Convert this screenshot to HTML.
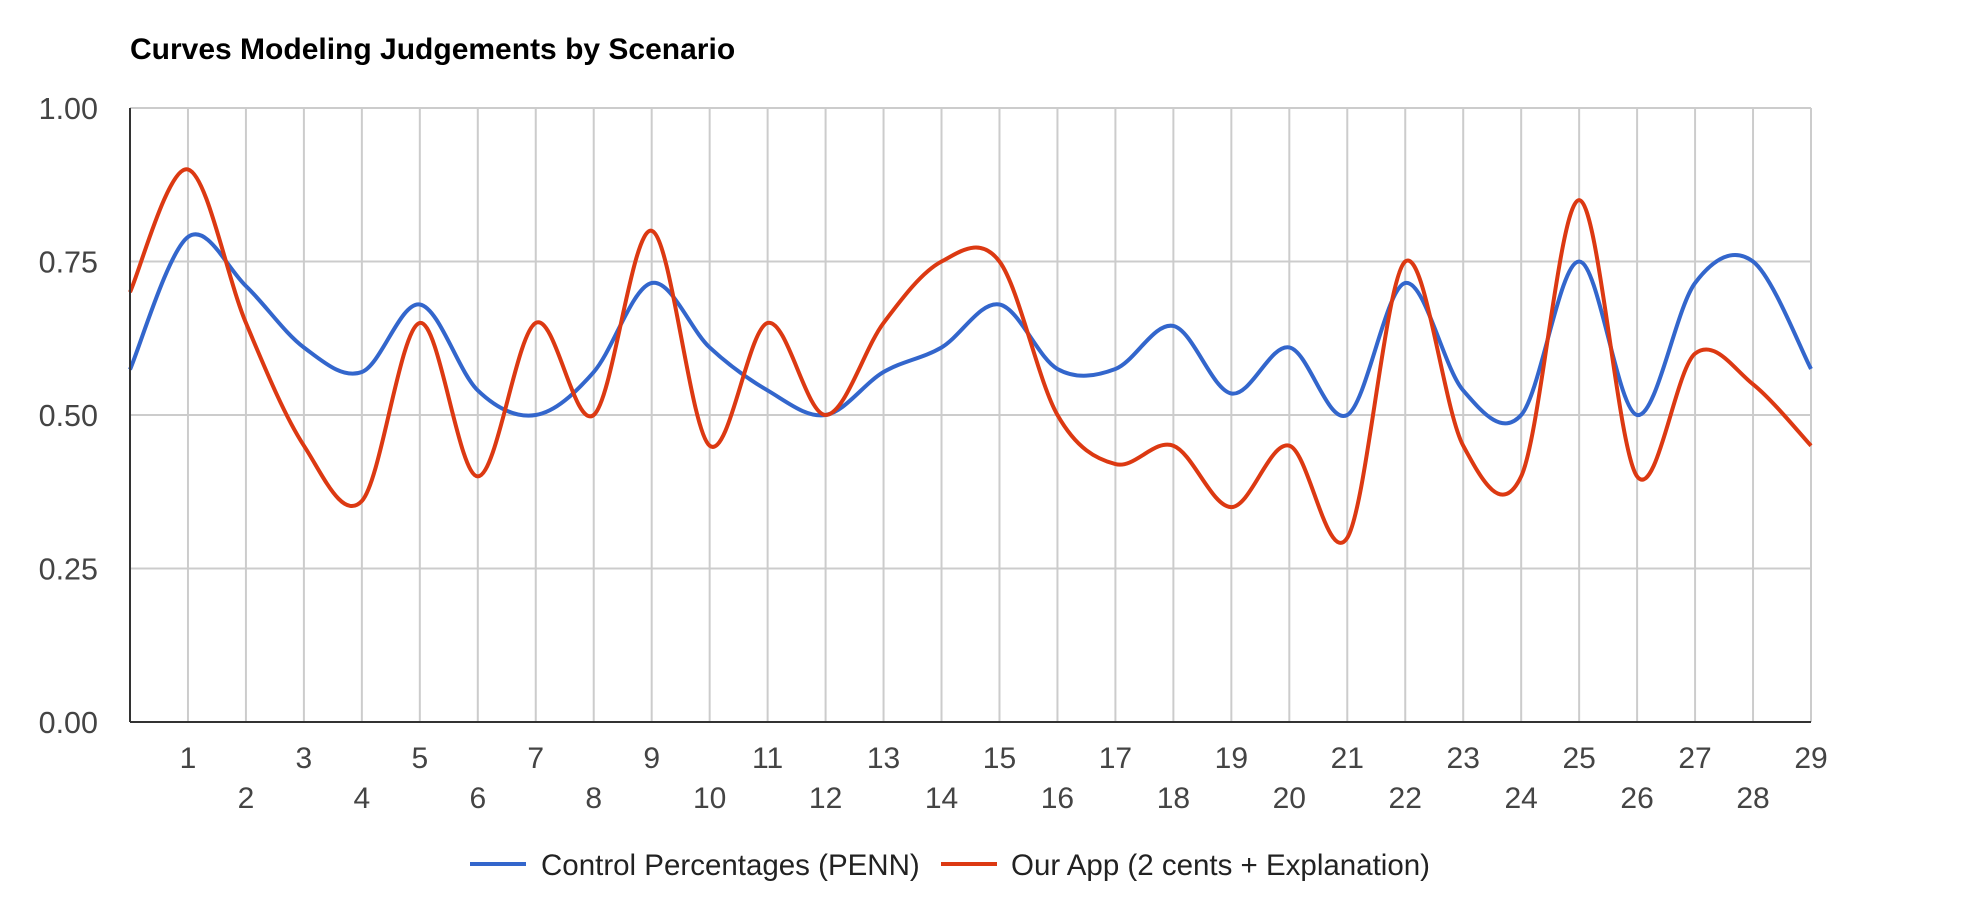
<!DOCTYPE html>
<html><head><meta charset="utf-8"><style>
html,body{margin:0;padding:0;background:#fff;}
svg{display:block;font-family:"Liberation Sans",Arial,sans-serif;}
</style></head><body>
<svg id="chart" width="1962" height="910" viewBox="0 0 1962 910" xmlns="http://www.w3.org/2000/svg">
<text x="130" y="59" font-size="30" font-weight="bold" fill="#000">Curves Modeling Judgements by Scenario</text>
<g id="grid"></g>
<g id="series"></g>
<g id="axes"></g>
<g>
 <g>
  <line x1="470" y1="864" x2="526" y2="864" stroke="#3366cc" stroke-width="4"/>
  <text x="541" y="875" font-size="29.5" fill="#222">Control Percentages (PENN)</text>
 </g>
 <g>
  <line x1="941" y1="864" x2="997" y2="864" stroke="#dc3912" stroke-width="4"/>
  <text x="1011" y="875" font-size="29.5" fill="#222">Our App (2 cents + Explanation)</text>
 </g>
</g>
</svg>
<script>
const categories = ["",1,2,3,4,5,6,7,8,9,10,11,12,13,14,15,16,17,18,19,20,21,22,23,24,25,26,27,28,29];
const controlValues = [0.574,0.79,0.71,0.61,0.57,0.68,0.54,0.50,0.57,0.715,0.61,0.54,0.50,0.57,0.61,0.68,0.575,0.575,0.645,0.535,0.61,0.50,0.715,0.54,0.50,0.75,0.50,0.715,0.75,0.575];
const appValues = [0.70,0.90,0.65,0.45,0.36,0.65,0.40,0.65,0.50,0.80,0.45,0.65,0.50,0.65,0.75,0.75,0.50,0.42,0.45,0.35,0.45,0.30,0.75,0.45,0.40,0.85,0.40,0.60,0.55,0.45];
const yTicks = [0,0.25,0.5,0.75,1.0];
const yTickLabels = ["0.00","0.25","0.50","0.75","1.00"];

const L=130,R=1811,T=108,B=722;
const NS="http://www.w3.org/2000/svg";
const xs=i=>L+(R-L)*i/(categories.length-1);
const ys=v=>B-(B-T)*v;
function mk(tag,attrs,parent){const e=document.createElementNS(NS,tag);for(const k in attrs)e.setAttribute(k,attrs[k]);parent.appendChild(e);return e;}
const grid=document.getElementById('grid'),axes=document.getElementById('axes'),series=document.getElementById('series');
yTicks.forEach((t,i)=>{
  const g=mk('line',{x1:L,x2:R,y1:ys(t),y2:ys(t),stroke:'#cccccc','stroke-width':2},grid);
  
  
  const tx=mk('text',{x:98,y:ys(t)+11,'text-anchor':'end','font-size':30.5,fill:'#444'},axes);
  
  
  tx.textContent=yTickLabels[i];
});
categories.forEach((c,i)=>{
  if(i>0){
    const g=mk('line',{x1:xs(i),x2:xs(i),y1:T,y2:B,stroke:'#cccccc','stroke-width':2},grid);
    
    
  }
  if(c!==""){
    const tx=mk('text',{x:xs(i),y:(i%2?768:808),'text-anchor':'middle','font-size':30,fill:'#444'},axes);
    
    
    tx.textContent=c;
  }
});
const ya=mk('line',{x1:L,x2:L,y1:T,y2:B,stroke:'#333','stroke-width':2},axes);


const xa=mk('line',{x1:L,x2:R,y1:B,y2:B,stroke:'#333','stroke-width':2},axes);


function smooth(vals){
  const p=vals.map((v,i)=>[xs(i),ys(v)]);
  let d=`M${p[0][0]},${p[0][1]}`;
  for(let i=0;i<p.length-1;i++){
    const p0=p[Math.max(0,i-1)],p1=p[i],p2=p[i+1],p3=p[Math.min(p.length-1,i+2)];
    const k=1/6;
    const c1=[p1[0]+(p2[0]-p0[0])*k,p1[1]+(p2[1]-p0[1])*k];
    const c2=[p2[0]-(p3[0]-p1[0])*k,p2[1]-(p3[1]-p1[1])*k];
    d+=` C${c1[0]},${c1[1]} ${c2[0]},${c2[1]} ${p2[0]},${p2[1]}`;
  }
  return d;
}
const s1=mk('path',{d:smooth(controlValues),fill:'none',stroke:'#3366cc','stroke-width':4},series);


const s2=mk('path',{d:smooth(appValues),fill:'none',stroke:'#dc3912','stroke-width':4},series);


</script>
</body></html>
